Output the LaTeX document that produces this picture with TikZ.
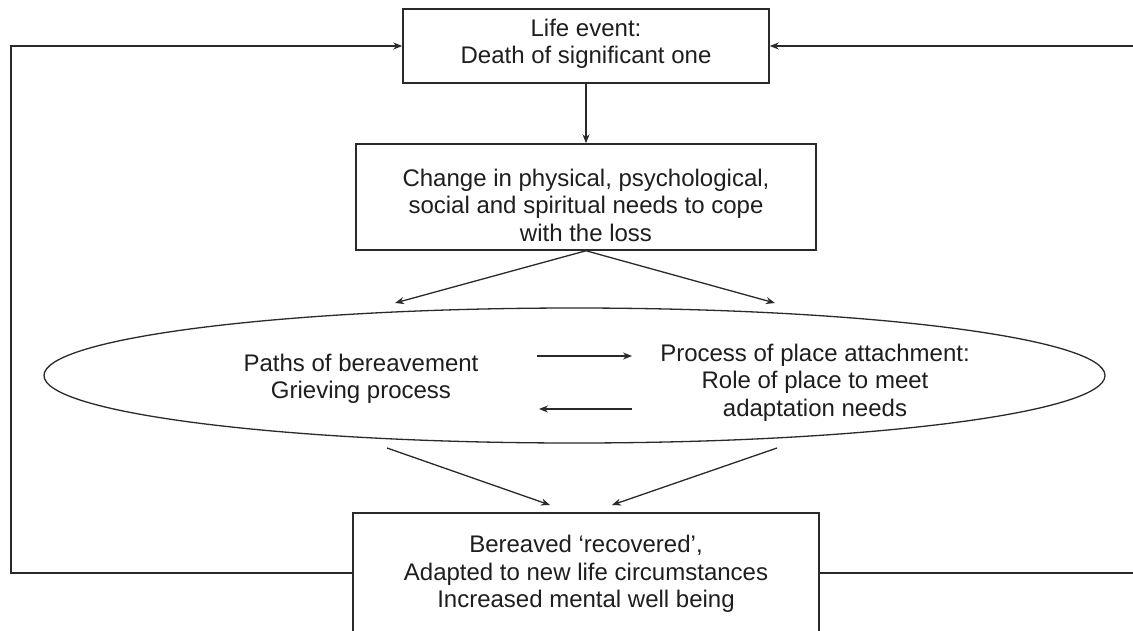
\documentclass[tikz,border=0pt]{standalone}
\usepackage{fontspec}
\setmainfont{Liberation Sans}
\usetikzlibrary{shapes.geometric,arrows.meta}
\definecolor{ink}{HTML}{2A2A2A}
\definecolor{txt}{HTML}{1E1E1E}
\begin{document}
\begin{tikzpicture}[x=1pt,y=-1pt,
  box/.style={draw=ink, line width=1.5pt, rectangle, inner sep=0pt},
  boxlabel/.style={text=txt, align=center, inner sep=0pt,
    font=\fontsize{24}{27.5}\selectfont},
  arr/.style={draw=ink, line width=1.3pt, -{Stealth[length=9pt,width=7pt]}},
  link/.style={draw=ink, line width=1.4pt},
]
\useasboundingbox (0,0) rectangle (1133,630);
\fill[white] (0,0) rectangle (1133,630);
\clip (0,0) rectangle (1133,630);

% boxes and their texts
\node[box, minimum width=366pt, minimum height=74pt] (event) at (586,46) {};
\node[boxlabel] (eventText) at (586,44) {Life event:\\Death of significant one};

\node[box, minimum width=460pt, minimum height=106pt] (change) at (586,197) {};
\node[boxlabel] (changeText) at (586,205)
  {Change in physical, psychological,\\social and spiritual needs to cope\\with the loss};

\node[draw=ink, line width=1.3pt, ellipse, inner sep=0pt,
      minimum width=1061pt, minimum height=135pt] (paths) at (574.5,375.5) {};
\node[boxlabel] (griefText) at (361,379) {Paths of bereavement\\Grieving process};
\node[boxlabel] (placeText) at (815,382.5)
  {Process of place attachment:\\Role of place to meet\\adaptation needs};

\node[box, minimum width=466pt, minimum height=120pt] (recovered) at (586,573) {};
\node[boxlabel] (recoveredText) at (586,574)
  {Bereaved ‘recovered’,\\Adapted to new life circumstances\\Increased mental well being};

% helper points for the free ends
\coordinate (splitL) at (395,303);
\coordinate (splitR) at (775,303);
\coordinate (mergeL) at (387,448);
\coordinate (mergeR) at (777,448);
\coordinate (tipL) at (550,505);
\coordinate (tipR) at (612,505);
\coordinate (fwdA) at (537,356);
\coordinate (fwdB) at (632,356);
\coordinate (backA) at (632,409);
\coordinate (backB) at (539,409);
\coordinate (loopBL) at (11,573);
\coordinate (loopTL) at (11,46);
\coordinate (loopBR) at (1145,573);
\coordinate (loopTR) at (1145,46);

% main flow
\draw[arr] (event.south) -- (change.north);
\draw[arr] (change.south) -- (splitL);
\draw[arr] (change.south) -- (splitR);
\draw[arr] (fwdA) -- (fwdB);
\draw[arr] (backA) -- (backB);
\draw[arr] (mergeL) -- (tipL);
\draw[arr] (mergeR) -- (tipR);

% feedback loops back to the life event
\draw[link, -{Stealth[length=9pt,width=7pt]}]
  (recovered.west) -- (loopBL) -- (loopTL) -- (event.west);
\draw[link, -{Stealth[length=9pt,width=7pt]}]
  (recovered.east) -- (loopBR) -- (loopTR) -- (event.east);
\end{tikzpicture}
\end{document}
